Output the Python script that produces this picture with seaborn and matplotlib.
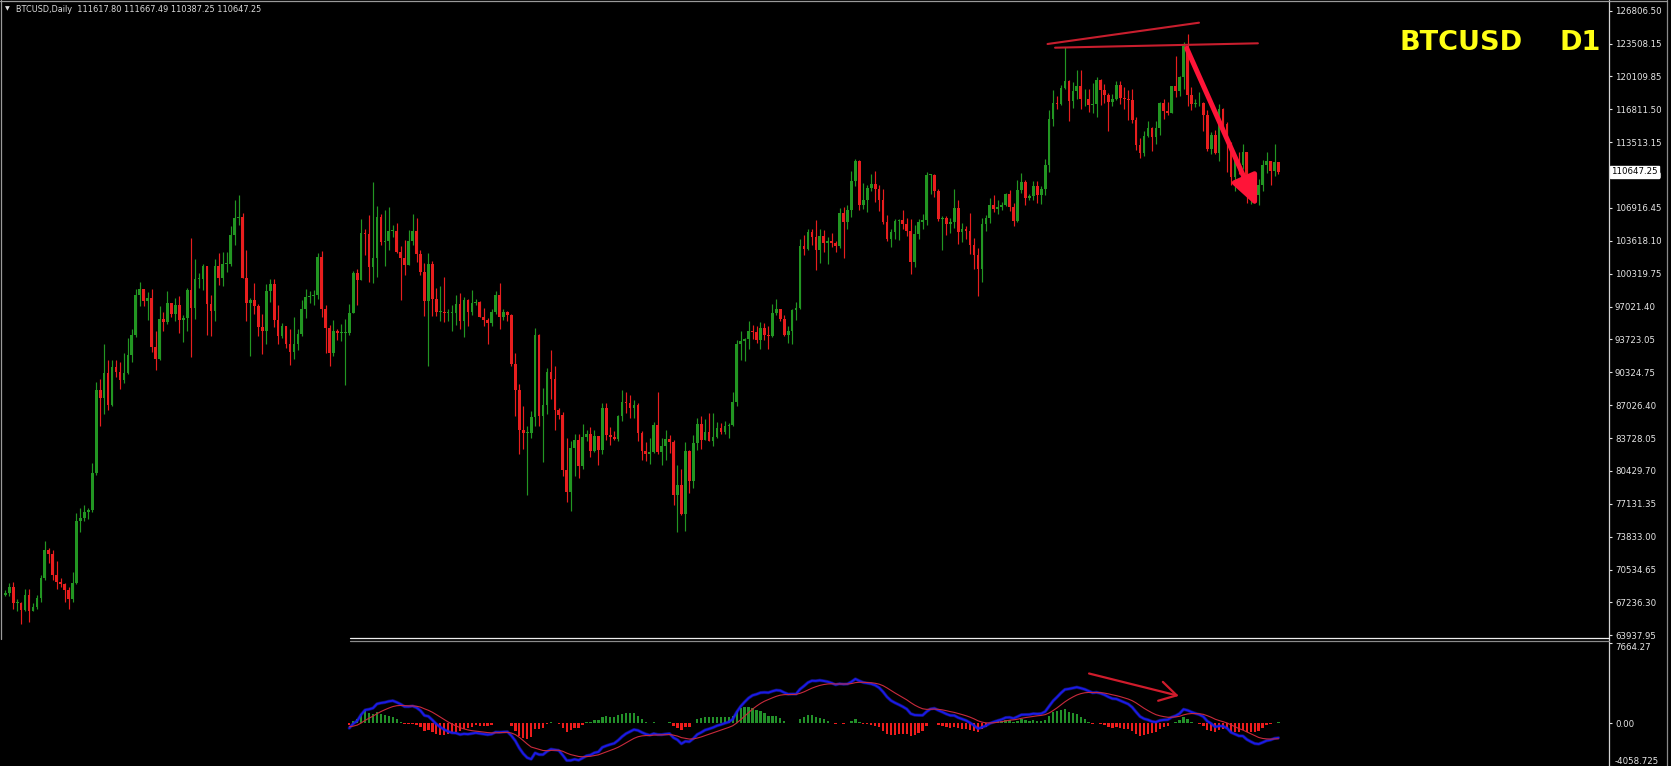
import numpy as np
import pandas as pd
import matplotlib
matplotlib.use("Agg")
import matplotlib.pyplot as plt
from matplotlib.lines import Line2D
import matplotlib.transforms as mtransforms
import seaborn as sns

# ---------------- data (BTCUSD daily, prices in thousands of USD) ----------------
first_open = 68.2
closes_k = [
    # Oct 19-31
    68.4, 69.0, 67.4, 67.4, 66.7, 68.2, 66.6, 67.0, 67.9, 69.9, 72.7, 72.3, 70.2,
    # Nov
    69.5, 69.3, 68.7, 67.8, 69.4, 75.6, 75.9, 76.5, 76.7, 80.4, 88.7, 87.9, 90.5, 87.2, 91.1,
    90.6, 89.8, 90.5, 92.3, 94.3, 98.3, 98.9, 97.7, 98.0, 93.1, 91.9, 95.9, 95.6, 97.5, 96.4,
    # Dec
    97.3, 95.8, 96.0, 98.8, 97.0, 99.9, 99.9, 101.2, 97.4, 96.7, 101.2, 100.0, 101.4, 101.4, 104.3,
    106.0, 106.1, 100.0, 97.5, 97.8, 97.2, 95.1, 94.7, 98.7, 99.4, 95.8, 94.2, 95.2, 93.4, 92.6, 93.4,
    # Jan
    94.4, 96.9, 98.1, 98.2, 98.3, 102.1, 96.9, 95.0, 92.5, 94.7, 94.5, 94.5, 94.5, 96.5, 100.5,
    99.8, 104.5, 104.4, 101.1, 102.0, 106.1, 103.6, 103.7, 104.7, 104.7, 102.6, 102.0, 101.3, 103.7, 104.7, 102.4,
    # Feb
    100.6, 97.7, 101.4, 97.9, 96.6, 96.6, 96.5, 96.5, 96.5, 97.4, 95.7, 97.8, 96.6, 97.5,
    97.6, 96.1, 95.8, 95.5, 96.6, 98.3, 96.1, 96.6, 96.3, 91.4, 88.7, 84.7, 84.4, 84.4,
    # Mar
    86.0, 94.3, 86.1, 87.2, 90.6, 89.9, 86.7, 86.2, 80.7, 78.5, 82.9, 83.7, 81.1, 84.0, 84.3,
    82.6, 84.1, 82.7, 86.9, 84.2, 84.0, 83.8, 86.1, 87.5, 87.4, 86.9, 87.2, 84.4, 82.6, 82.3, 82.5,
    # Apr
    85.2, 82.5, 83.1, 83.8, 83.5, 78.2, 79.2, 76.3, 82.6, 79.6, 83.4, 85.3, 83.7, 84.5, 83.6,
    84.0, 84.9, 84.5, 85.1, 85.2, 87.5, 93.4, 93.7, 93.9, 94.7, 94.6, 93.8, 95.0, 94.3, 94.2,
    # May
    96.5, 96.9, 95.9, 94.3, 94.7, 96.8, 97.0, 103.2, 102.9, 104.6, 104.1, 102.8, 104.2, 103.5, 103.7,
    103.5, 103.2, 106.5, 105.6, 106.8, 109.7, 111.7, 107.3, 107.8, 109.0, 109.4, 108.9, 107.8, 105.6, 103.9, 104.6,
    # Jun
    105.7, 105.8, 105.4, 104.7, 101.6, 104.4, 105.6, 105.8, 110.3, 110.3, 108.7, 105.9, 106.0, 105.4, 105.6,
    107.0, 104.6, 104.9, 104.7, 103.3, 102.3, 100.9, 105.4, 106.0, 107.3, 106.9, 107.1, 107.3, 108.4, 107.1,
    # Jul
    105.7, 108.8, 109.6, 108.0, 108.2, 109.2, 108.3, 108.9, 111.3, 115.9, 117.5, 117.4, 119.1, 119.8, 117.7,
    118.7, 119.3, 117.9, 117.9, 117.3, 117.4, 119.9, 118.8, 118.3, 117.6, 117.9, 119.4, 118.0, 117.9, 117.8, 115.8,
    # Aug
    113.3, 112.5, 114.2, 115.0, 114.1, 115.0, 117.5, 116.7, 116.5, 119.3, 118.7, 120.2, 123.3, 118.3, 117.4,
    117.5, 117.5, 116.3, 112.9, 114.3, 112.5, 116.9, 115.4, 113.5, 110.1, 111.8, 111.3, 112.6, 108.4, 108.8, 108.3,
    # Sep
    109.3, 111.3, 111.7, 110.7, 111.6178, 110.64725,
]
highs_k = [
    68.7, 69.4, 69.5, 67.8, 67.5, 68.8, 68.8, 67.4, 68.2, 70.2, 73.6, 72.9, 72.7,
    71.6, 69.9, 69.4, 69.0, 70.5, 76.4, 76.9, 77.2, 76.9, 81.4, 89.6, 89.9, 93.4, 91.8, 91.8,
    91.8, 91.6, 92.5, 94.0, 94.9, 98.9, 99.6, 98.9, 98.6, 98.9, 94.7, 97.2, 96.6, 98.7, 97.5,
    98.0, 98.2, 96.3, 99.0, 104.0, 101.9, 100.5, 101.4, 101.2, 98.3, 101.9, 102.5, 102.6, 102.6, 105.2,
    107.8, 108.3, 106.5, 102.8, 98.0, 99.5, 97.4, 96.4, 99.4, 99.9, 99.9, 97.3, 95.5, 95.2, 94.9, 96.1,
    94.9, 97.8, 98.9, 98.7, 98.8, 102.5, 102.7, 97.3, 95.3, 95.8, 94.9, 95.4, 95.9, 97.4, 100.7,
    100.9, 105.9, 104.9, 106.3, 109.6, 107.2, 106.4, 106.8, 107.1, 105.3, 105.5, 103.2, 103.8, 104.8, 106.4, 106.0,
    102.8, 101.5, 102.5, 101.7, 99.0, 99.2, 100.1, 96.9, 97.3, 98.3, 98.5, 98.1, 97.9, 98.8,
    97.9, 97.7, 97.0, 96.0, 96.9, 98.7, 99.5, 96.9, 96.7, 96.4, 92.5, 89.3, 87.1, 85.1,
    86.6, 95.0, 94.4, 88.9, 91.0, 92.8, 91.2, 86.9, 86.5, 83.9, 83.6, 84.3, 84.3, 85.3, 84.7,
    85.0, 84.7, 84.1, 87.4, 87.4, 85.0, 84.6, 86.2, 88.7, 88.5, 88.2, 87.7, 87.4, 84.6, 83.5, 83.9,
    85.5, 88.5, 83.9, 84.7, 84.2, 83.7, 81.2, 80.8, 83.5, 82.7, 84.2, 85.9, 86.1, 85.8, 86.4,
    86.4, 85.5, 85.4, 85.6, 85.4, 88.5, 93.8, 94.7, 94.0, 95.7, 95.3, 95.2, 95.6, 95.5, 95.2,
    97.4, 97.9, 96.9, 96.3, 95.2, 96.9, 97.6, 103.9, 104.3, 104.9, 104.9, 105.8, 104.9, 104.8, 104.1,
    104.5, 103.7, 107.0, 107.1, 107.3, 110.7, 111.9, 111.8, 109.5, 109.3, 110.4, 110.7, 109.3, 108.9, 106.3, 104.9,
    105.9, 105.9, 106.8, 106.0, 105.9, 105.3, 105.9, 106.4, 110.6, 110.4, 110.4, 108.9, 106.2, 106.2, 106.0,
    108.9, 107.8, 105.5, 105.2, 106.5, 104.0, 103.0, 106.0, 106.3, 108.0, 108.3, 107.8, 107.6, 108.5, 108.8,
    107.5, 109.8, 110.5, 109.8, 108.4, 109.7, 109.7, 109.2, 111.9, 116.8, 118.8, 118.2, 119.4, 123.2, 119.9,
    119.7, 120.9, 120.9, 118.9, 118.9, 119.6, 120.2, 120.0, 119.5, 118.5, 118.4, 119.8, 119.8, 119.2, 118.8, 118.9,
    116.1, 114.0, 114.7, 115.7, 115.1, 115.7, 117.6, 117.9, 117.6, 119.3, 122.3, 120.3, 123.7, 124.5, 119.2,
    117.9, 118.6, 117.6, 116.8, 114.6, 114.8, 117.4, 117.0, 115.6, 113.6, 112.4, 112.6, 113.4, 112.6, 108.9, 109.5,
    109.9, 111.8, 112.6, 111.7, 113.4, 111.66749,
]
lows_k = [
    68.1, 68.1, 66.8, 66.6, 65.3, 66.6, 65.5, 66.6, 66.8, 67.5, 69.7, 71.4, 69.7,
    68.8, 69.0, 67.5, 66.8, 67.5, 69.3, 74.5, 75.6, 75.8, 76.5, 80.2, 85.1, 86.3, 86.7, 87.1,
    90.1, 88.8, 89.4, 90.4, 91.6, 94.1, 97.2, 97.2, 95.8, 92.6, 90.8, 91.8, 94.7, 95.4, 96.1,
    95.7, 94.5, 93.6, 94.7, 92.1, 95.9, 99.0, 98.8, 94.3, 94.2, 95.7, 99.3, 99.2, 100.6, 101.2,
    103.3, 105.3, 100.0, 95.7, 92.2, 96.4, 94.2, 92.4, 93.4, 97.6, 95.1, 93.4, 94.0, 93.0, 91.3, 91.9,
    92.8, 94.2, 96.0, 97.5, 97.3, 97.9, 96.1, 92.5, 91.2, 92.2, 93.8, 93.7, 89.2, 94.3, 96.5,
    97.3, 99.9, 102.3, 99.6, 99.5, 100.1, 103.3, 101.2, 102.8, 104.1, 102.5, 97.8, 100.3, 101.3, 103.3, 101.6,
    100.3, 96.2, 91.2, 96.2, 96.2, 95.7, 95.6, 95.7, 94.7, 95.3, 94.9, 94.1, 95.2, 96.3,
    97.3, 96.1, 95.2, 93.4, 95.2, 96.4, 94.9, 95.8, 95.7, 91.2, 86.1, 82.3, 82.8, 78.2,
    83.9, 85.1, 85.1, 81.5, 86.3, 87.8, 84.7, 85.8, 80.1, 77.5, 76.6, 80.1, 79.9, 80.8, 83.6,
    82.0, 82.5, 81.2, 82.3, 83.7, 83.2, 83.7, 83.6, 85.6, 86.4, 85.9, 85.9, 83.6, 81.7, 81.6, 81.3,
    82.4, 82.3, 81.2, 81.7, 82.4, 77.2, 74.5, 76.2, 74.6, 78.4, 78.9, 82.7, 82.8, 83.7, 83.6,
    83.1, 83.9, 84.3, 84.3, 83.9, 85.1, 87.1, 91.8, 91.7, 92.9, 93.9, 93.5, 92.9, 93.8, 92.9,
    94.1, 96.3, 95.7, 94.2, 93.5, 93.4, 95.8, 96.9, 102.3, 102.8, 103.3, 100.8, 101.5, 102.6, 101.4,
    103.1, 102.6, 103.0, 102.0, 104.9, 106.1, 109.2, 106.8, 106.9, 106.6, 108.7, 107.6, 106.7, 105.4, 103.7, 103.1,
    103.9, 103.8, 104.9, 104.2, 100.4, 101.1, 103.9, 104.9, 105.3, 108.4, 108.1, 105.7, 102.8, 104.3, 104.5,
    105.0, 103.4, 103.6, 103.9, 102.4, 100.9, 98.2, 99.6, 104.7, 105.5, 106.6, 106.4, 106.8, 107.2, 106.7,
    105.2, 105.6, 108.5, 107.3, 107.8, 107.8, 107.5, 107.4, 108.3, 110.6, 115.2, 116.9, 117.3, 118.9, 115.7,
    117.0, 117.9, 116.9, 117.2, 116.6, 116.5, 116.1, 117.3, 117.5, 114.7, 117.2, 117.8, 117.4, 116.9, 115.8, 115.5,
    112.8, 112.0, 112.2, 114.1, 112.7, 113.4, 114.3, 115.9, 116.3, 116.5, 118.1, 118.2, 118.9, 117.2, 116.8,
    117.1, 117.2, 114.7, 112.7, 112.4, 112.4, 111.7, 114.6, 110.6, 109.3, 108.7, 110.4, 110.9, 107.5, 107.4, 108.1,
    107.3, 108.7, 110.5, 109.3, 110.2, 110.38725,
]

price_labels = ["126806.50", "123508.15", "120109.85", "116811.50", "113513.15", "110214.80",
                "106916.45", "103618.10", "100319.75", "97021.40", "93723.05", "90324.75",
                "87026.40", "83728.05", "80429.70", "77131.35", "73833.00", "70534.65",
                "67236.30", "63937.95"]
macd_labels = ["7664.27", "0.00", "-4058.725"]
macd_limits = [-4058.725, 7664.27]
header_text = "BTCUSD,Daily  111617.80 111667.49 110387.25 110647.25"
last_price_text = "110647.25"
symbol_text = "BTCUSD"
period_text = "D1"
macd_first_bar = 87          # first bar drawn in the MACD window

# hand-drawn objects (bar index, price)
trend_a_x, trend_a_y = [263.6, 301.9], [123465, 125602]
trend_b_x, trend_b_y = [265.5, 316.8], [123094, 123535]
arrow_x, arrow_y = [298.8, 316.6], [123034, 107139]
macd_arrow_x, macd_arrow_y = [274.1, 296.8], [4757, 2623]

# ---------------- frame ----------------
close = np.array(closes_k) * 1000.0
high = np.array(highs_k) * 1000.0
low = np.array(lows_k) * 1000.0
openp = np.r_[first_open * 1000.0, close[:-1]]     # 24/7 market: open = prior close
high = np.maximum(high, np.maximum(openp, close))
low = np.minimum(low, np.minimum(openp, close))
n = len(close)
df = pd.DataFrame({"i": np.arange(n), "open": openp, "high": high, "low": low, "close": close})

ema_fast = df["close"].ewm(span=12, adjust=False).mean()
ema_slow = df["close"].ewm(span=26, adjust=False).mean()
df["macd"] = ema_fast - ema_slow
df["signal"] = df["macd"].ewm(span=9, adjust=False).mean()
df["hist"] = 1.15 * (df["macd"] - df["signal"])
dm = df[df["i"] >= macd_first_bar]

# ---------------- style ----------------
sns.set_theme(style="dark", rc={"axes.facecolor": "black", "figure.facecolor": "black"})
plt.rcParams["font.family"] = ["DejaVu Sans"]

W, H = 1671, 766
fig = plt.figure(figsize=(W / 100, H / 100), dpi=100, facecolor="black")
ax1 = fig.add_axes([1 / W, 1 - 639 / H, 1608 / W, 639 / H])
ax2 = fig.add_axes([1 / W, 0, 1608 / W, 123 / H])
for ax in (ax1, ax2):
    ax.set_facecolor("black")
    for s in ax.spines.values():
        s.set_visible(False)
    ax.set_xlim(-1.087, 405.6)
    ax.set_xticks([])
    ax.grid(False)
    ax.set_xlabel("")
    ax.set_ylabel("")

GREEN = "#229622"
RED = "#e81e1e"

# candles
up = df["close"] >= df["open"]
cols = np.where(up, GREEN, RED)
ax1.vlines(df["i"], df["low"], df["high"], colors=cols, lw=0.85, zorder=2)
body_lo = np.minimum(df["open"], df["close"])
body_h = np.maximum(np.abs(df["close"] - df["open"]), 90)
ax1.bar(df["i"], body_h, bottom=body_lo, width=0.68, color=cols, linewidth=0, zorder=3)

ytop = 127880.0
ybot = ytop - 639 * 100.34
ax1.set_ylim(ybot, ytop)
step = 3298.35
ticks = [126806.5 - k * step for k in range(len(price_labels))]
ax1.yaxis.tick_right()
ax1.set_yticks(ticks)
ax1.set_yticklabels(price_labels)
ax1.tick_params(axis="y", colors="#e6e6e6", labelsize=6.2, length=2.5, width=0.8, pad=1.8,
                right=True, left=False)

# MACD window
hcols = np.where(dm["hist"] >= 0, "#23912a", "#ee1c1c")
ax2.bar(dm["i"], dm["hist"], width=0.6, color=hcols, linewidth=0, zorder=2)
sns.lineplot(data=dm, x="i", y="macd", ax=ax2, color="#2a2af0", lw=2.4, alpha=0.4, zorder=3)
sns.lineplot(data=dm, x="i", y="macd", ax=ax2, color="#1a1ae6", lw=1.4, zorder=4)
sns.lineplot(data=dm, x="i", y="signal", ax=ax2, color="#c82a3c", lw=0.8, zorder=5)
ax2.set_ylim(*macd_limits)
ax2.set_xlim(-1.087, 405.6)
ax2.set_xlabel("")
ax2.set_ylabel("")
ax2.yaxis.tick_right()
ax2.set_yticks([macd_limits[1], 0.0, macd_limits[0]])
ax2.set_yticklabels(macd_labels)
ax2.tick_params(axis="y", colors="#e6e6e6", labelsize=6.2, length=2.5, width=0.8, pad=1.8,
                right=True, left=False)
labs = ax2.get_yticklabels()
labs[0].set_va("top")
labs[2].set_va("bottom")

# hand-drawn objects
LINE_RED = "#c81e2e"
ax1.plot(trend_a_x, trend_a_y, color=LINE_RED, lw=1.5, zorder=6)
ax1.plot(trend_b_x, trend_b_y, color=LINE_RED, lw=1.5, zorder=6)
ax1.annotate("", xy=(arrow_x[1], arrow_y[1]), xytext=(arrow_x[0], arrow_y[0]),
             arrowprops=dict(arrowstyle="-|>,head_length=0.9,head_width=0.4", color="#ff1438",
                             lw=3.6, mutation_scale=20, shrinkA=0, shrinkB=0), zorder=7)
ax2.annotate("", xy=(macd_arrow_x[1], macd_arrow_y[1]), xytext=(macd_arrow_x[0], macd_arrow_y[0]),
             arrowprops=dict(arrowstyle="->,head_length=0.6,head_width=0.35", color="#d01c2c",
                             lw=1.6, mutation_scale=20, shrinkA=0, shrinkB=0), zorder=7)

# current price box (covers the hidden 110214.80 label, as in the terminal)
bt = mtransforms.blended_transform_factory(ax1.transAxes, ax1.transData)
ax1.text(1.0012, 110647.25, last_price_text, transform=bt, ha="left", va="center",
         fontsize=6.2, color="black", zorder=10, clip_on=False,
         bbox=dict(boxstyle="square,pad=0.15", fc="white", ec="white"))

# titles
fig.text(7 / W, 1 - 9 / H, "▼", color="#e0e0e0", fontsize=4.5, ha="center", va="center")
fig.text(16 / W, 1 - 9 / H, header_text, color="#dcdcdc", fontsize=5.9, ha="left", va="center")
fig.text(1399 / W, 1 - 43 / H, symbol_text, color="#ffff14", fontsize=19.5, fontweight="bold",
         ha="left", va="center")
fig.text(1560 / W, 1 - 43 / H, period_text, color="#ffff14", fontsize=19.5, fontweight="bold",
         ha="left", va="center")

# frame lines (figure pixels)
def fline(x0, y0, x1, y1, color, lw=1.0):
    fig.add_artist(Line2D([x0 / W, x1 / W], [1 - y0 / H, 1 - y1 / H], color=color, lw=lw,
                          transform=fig.transFigure))

fline(1609, 0, 1609, H, "#d2d2d2", 0.9)
fline(1667, 0, 1667, H, "#8a8a8a", 0.9)
fline(0, 0.6, 1667, 0.6, "#9a9a9a", 0.9)
fline(1.2, 0, 1.2, 639, "#9a9a9a", 0.9)
fline(350, 638.3, 1609, 638.3, "#eeeeee", 0.9)
fline(350, 640.6, 1609, 640.6, "#8c8c8c", 0.9)

fig.savefig("out.png", dpi=100, facecolor="black")
